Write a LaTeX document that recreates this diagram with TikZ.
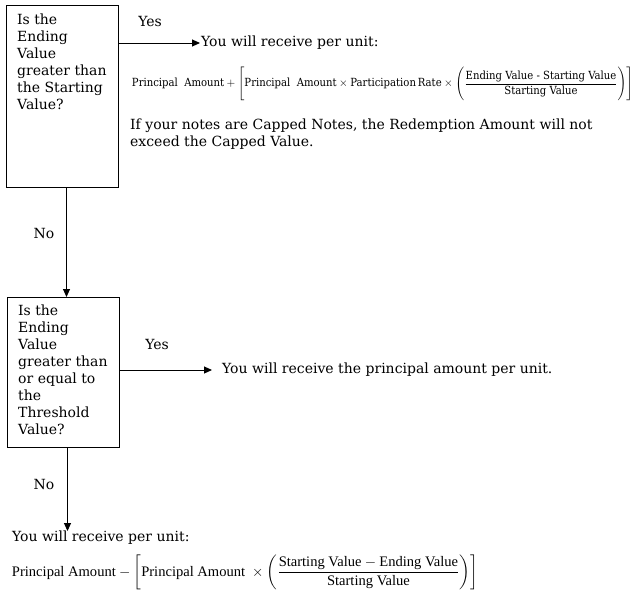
\documentclass[tikz,border=0pt]{standalone}
\usepackage{amsmath}
\usepackage{fontspec}
\setmainfont{DejaVu Serif}
\newfontfamily\formfont{Liberation Serif}
\newfontfamily\condfont{DejaVu Serif Condensed}
\usetikzlibrary{arrows.meta}
\begin{document}
\begin{tikzpicture}[x=1pt,y=-1pt,
  every node/.style={font=\fontsize{14}{17}\selectfont, inner sep=0pt},
  qbox/.style={draw, line width=1pt, anchor=north west},
  qtext/.style={anchor=north west, align=left},
  conn/.style={line width=1pt, -{Triangle[length=8pt,width=7pt]}},
]
\useasboundingbox (0,0) rectangle (640,595);
% question boxes
\node[qbox, minimum width=112pt, minimum height=182pt] (q1) at (6,5) {};
\node[qtext] (q1t) at (17,14) {Is the\\Ending\\Value\\greater than\\the Starting\\Value?};
\node[qbox, minimum width=112pt, minimum height=150pt] (q2) at (7,297) {};
\node[qtext] (q2t) at (18,305) {Is the\\Ending\\Value\\greater than\\or equal to\\the\\Threshold\\Value?};
% results
\node[anchor=west] (r1) at (201,43) {You will receive per unit:};
\node (f1) at (382.5,83) {\resizebox{501pt}{!}{\fontsize{10}{12}\condfont$\text{Principal\ \ Amount} + \left[\rule[-12pt]{0pt}{31pt}\text{Principal\ \ Amount} \times \text{Participation\,Rate} \times \left(\rule[-10pt]{0pt}{27pt}\dfrac{\text{Ending Value - Starting Value}}{\text{Starting Value}}\right)\right]$}};
\node[qtext] (cap) at (130,119) {If your notes are Capped Notes, the Redemption Amount will not\\exceed the Capped Value.};
\node[anchor=west] (r2) at (222,370) {You will receive the principal amount per unit.};
\node[anchor=west] (r3) at (12,538) {You will receive per unit:};
\node (f3) at (245,572) {\resizebox{466pt}{!}{\fontsize{12}{14}\formfont$\text{Principal Amount} - \left[\rule[-11pt]{0pt}{29pt}\text{Principal Amount}\ \times \left(\rule[-10pt]{0pt}{26pt}\dfrac{\text{Starting Value} - \text{Ending Value}}{\text{Starting Value}}\right)\right]$}};
% labels
\node (y1) at (150,21) {Yes};
\node (y2) at (157,344) {Yes};
\node (n1) at (44,233) {No};
\node (n2) at (44,484) {No};
% connectors
\draw[conn] (q1.east |- r1.west) -- ([xshift=-1pt]r1.west);
\draw[conn] (q2.east |- r2.west) -- ([xshift=-10pt]r2.west);
\draw[conn] ([xshift=4pt]q1.south) -- ([xshift=4pt]q1.south |- q2.north);
\draw[conn] ([xshift=4pt]q2.south) -- ([xshift=4pt]q2.south |- r3.north);
\end{tikzpicture}
\end{document}
